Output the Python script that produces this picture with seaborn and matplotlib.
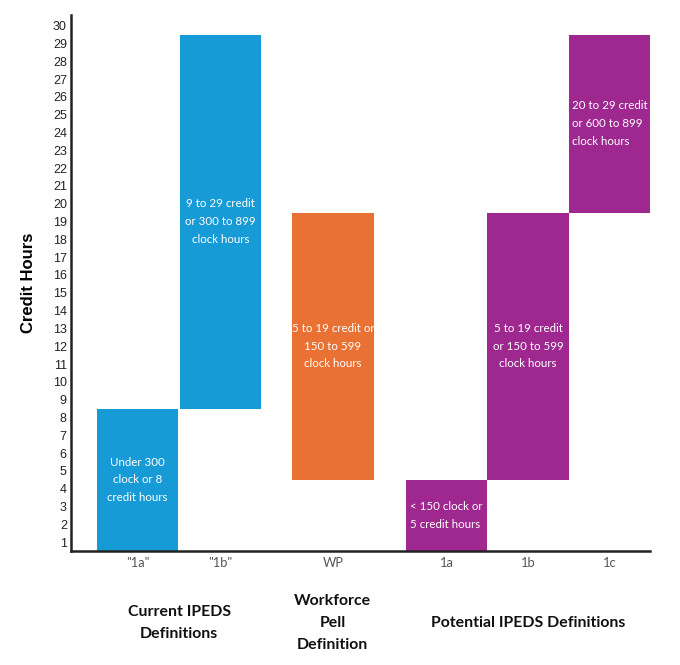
import numpy as np
import pandas as pd
import seaborn as sns
import matplotlib.pyplot as plt
from matplotlib.transforms import blended_transform_factory

# data: credit hour ranges per definition
labels = ['"1a"', '"1b"', 'WP', '1a', '1b', '1c']
low_hours = [1, 9, 5, 1, 5, 20]
high_hours = [8, 29, 19, 4, 19, 29]
notes = [
    "Under 300\nclock or 8\ncredit hours",
    "9 to 29 credit\nor 300 to 899\nclock hours",
    "5 to 19 credit or\n150 to 599\nclock hours",
    "< 150 clock or\n5 credit hours",
    "5 to 19 credit\nor 150 to 599\nclock hours",
    "20 to 29 credit\nor 600 to 899\nclock hours",
]
groups = ["Current IPEDS\nDefinitions", "Workforce\nPell\nDefinition", "Potential IPEDS Definitions"]
group_members = [[0, 1], [2], [3, 4, 5]]

# layout / style
positions = [0, 1.02, 2.4, 3.8, 4.8, 5.8]
colors = ['#179bd7', '#179bd7', '#ea7134', '#9e288f', '#9e288f', '#9e288f']
note_align = ['center', 'center', 'center', 'left', 'center', 'left']

df = pd.DataFrame({
    "pos": positions,
    "label": labels,
    "span": [h - l + 1 for l, h in zip(low_hours, high_hours)],
})

sns.set_theme(style="white")

fig = plt.figure(figsize=(6.8, 6.65), dpi=100)
ax = fig.add_axes([71 / 680, 1 - 551 / 665, 579 / 680, 536 / 665])

sns.barplot(data=df, x="pos", y="span", hue="label",
            palette=dict(zip(labels, colors)), saturation=1,
            native_scale=True, width=1.0, legend=False,
            linewidth=0, ax=ax)

# move each bar up so it floats over its range
pos_arr = np.array(positions)
for patch in ax.patches:
    cx = patch.get_x() + patch.get_width() / 2
    i = int(np.argmin(np.abs(pos_arr - cx)))
    patch.set_y(low_hours[i] - 0.5)

for i in range(len(labels)):
    mid = (low_hours[i] + high_hours[i]) / 2
    ax.text(positions[i], mid, notes[i], ha="center", va="center",
            multialignment=note_align[i], color="white",
            fontsize=8.3, family="Lato", linespacing=1.75)

ax.set_xlim(-0.82, 6.3)
ax.set_ylim(0.5, 30.6)
ax.set_yticks(range(1, 31))
ax.set_xticks(positions)
ax.set_xticklabels(labels, family="Lato", fontsize=9.3, color="#555555")
ax.set_yticklabels([str(v) for v in range(1, 31)],
                   family="Liberation Sans", fontsize=9, color="#222222")
ax.tick_params(length=0, pad=3)
ax.tick_params(axis="x", pad=4)

ax.set_xlabel("")
ax.set_ylabel("Credit Hours", family="Liberation Sans", fontsize=12,
              fontweight="bold", color="black")
ax.yaxis.set_label_coords(-0.06, 0.5)

sns.despine(ax=ax)
for side in ["left", "bottom"]:
    ax.spines[side].set_color("#222222")
    ax.spines[side].set_linewidth(1.8)

# group captions below the axis
trans = blended_transform_factory(ax.transData, fig.transFigure)
for name, members in zip(groups, group_members):
    gx = np.mean([positions[m] for m in members])
    ax.text(gx, 1 - 623 / 665, name, transform=trans, ha="center", va="center",
            family="Lato", fontsize=11.4, fontweight="bold", linespacing=1.7,
            color="#111111")

fig.savefig("out.png", dpi=100)
